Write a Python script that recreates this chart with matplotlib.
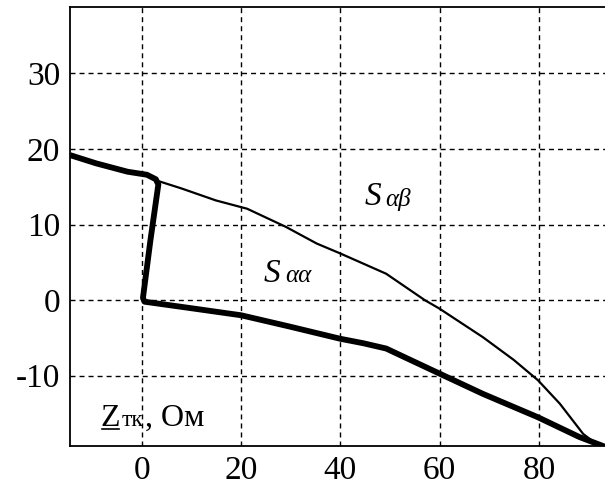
import matplotlib
matplotlib.use('Agg')
import matplotlib.pyplot as plt
from matplotlib.lines import Line2D

plt.rcParams['font.family'] = ['Liberation Serif', 'DejaVu Serif']
plt.rcParams['axes.unicode_minus'] = False
plt.rcParams['lines.scale_dashes'] = False

# thick boundary (S_aa region)
thick_x = [-14.5, -9.2, -2.9, 1.0, 2.8, 3.3, 1.7, 0.2, 0.5, 10.3, 20.0, 29.8, 39.9, 44.6,
           49.2, 59.9, 68.7, 79.8, 88.1, 93.3]
thick_y = [19.2, 18.1, 17.0, 16.6, 16.0, 15.3, 7.9, 0.3, -0.2, -1.1, -2.0, -3.5, -5.1, -5.7,
           -6.4, -9.7, -12.4, -15.5, -18.1, -19.4]

# thin boundary (S_ab)
thin_x = [3.6, 7.9, 14.9, 21.2, 29.0, 35.2, 39.9, 49.2, 57.0, 59.9, 68.7, 74.9, 79.8,
          84.2, 88.9, 90.5, 93.3]
thin_y = [15.7, 14.8, 13.2, 12.1, 9.7, 7.5, 6.2, 3.5, 0.0, -1.1, -4.9, -7.9, -10.6,
          -13.7, -17.7, -18.5, -19.3]

xticks = [0, 20, 40, 60, 80]
yticks = [-10, 0, 10, 20, 30]

fig = plt.figure(figsize=(6.05, 4.86), dpi=100)
ax = fig.add_axes([0.1157, 0.0823, 0.8843, 0.9033])

ax.plot(thick_x, thick_y, color='black', lw=4.2, solid_joinstyle='round', solid_capstyle='butt')
ax.plot(thin_x, thin_y, color='black', lw=1.6)

ax.set_xlim(-14.5, 93.3)
ax.set_ylim(-19.3, 38.8)
ax.set_xticks(xticks)
ax.set_yticks(yticks)
ax.tick_params(length=0, labelsize=24, pad=7)
ax.grid(True, color='black', lw=1.0, linestyle=(0, (3.6, 2.9)))

for s in ['left', 'top', 'bottom']:
    ax.spines[s].set_linewidth(1.3)
ax.spines['right'].set_visible(False)

# region labels: S with a near-baseline subscript
ax.text(44.8, 12.6, 'S', fontsize=24, style='italic', va='baseline')
ax.text(49.0, 12.45, 'αβ', fontsize=18, style='italic', va='baseline')
ax.text(24.6, 2.4, 'S', fontsize=24, style='italic', va='baseline')
ax.text(28.8, 2.35, 'αα', fontsize=18, style='italic', va='baseline')

# axis quantity label
zlab = ax.text(-8.3, -16.6, 'Z', fontsize=23, va='baseline')
ax.text(-4.0, -16.6, 'тк', fontsize=17, va='baseline')
ax.text(0.6, -16.6, ', Ом', fontsize=23, va='baseline')

# underline under the Z
fig.canvas.draw()
bb = zlab.get_window_extent()
y_px = ax.transData.transform((0, -16.6))[1] - 3
inv = fig.transFigure.inverted()
p0 = inv.transform((bb.x0 + 1, y_px))
p1 = inv.transform((bb.x1 - 1, y_px))
fig.add_artist(Line2D([p0[0], p1[0]], [p0[1], p1[1]], color='black', lw=1.2,
                      transform=fig.transFigure))

fig.savefig('out.png', dpi=100)
